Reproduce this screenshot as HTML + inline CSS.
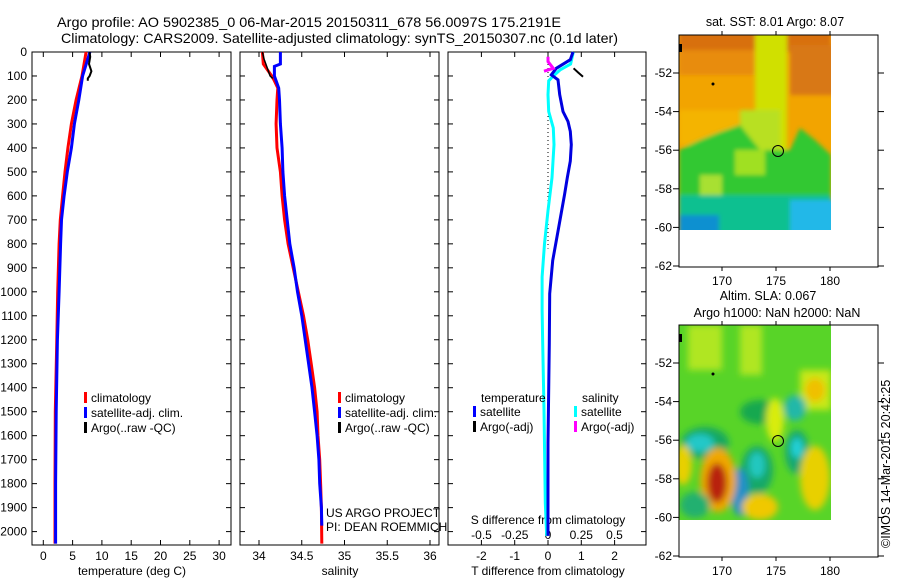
<!DOCTYPE html>
<html><head><meta charset="utf-8">
<style>
html,body{margin:0;padding:0;background:#fff;}
svg{display:block;font-family:"Liberation Sans",sans-serif;}
text{font-size:12px;fill:#000;}
</style></head>
<body>
<svg id="chart" width="900" height="580" viewBox="0 0 900 580" xmlns="http://www.w3.org/2000/svg">
<defs>
<filter id="bl" x="-20%" y="-20%" width="140%" height="140%"><feGaussianBlur stdDeviation="2"/></filter>
<filter id="bl2" x="-20%" y="-20%" width="140%" height="140%"><feGaussianBlur stdDeviation="3.5"/></filter>
<clipPath id="c1"><rect x="679" y="35" width="152" height="195"/></clipPath>
<clipPath id="c2"><rect x="679" y="325" width="152" height="195"/></clipPath>
</defs>
<text x="57" y="27" style="font-size:14px" textLength="504" lengthAdjust="spacingAndGlyphs">Argo profile: AO 5902385_0 06-Mar-2015 20150311_678 56.0097S 175.2191E</text>
<text x="61" y="43" style="font-size:14px" textLength="557" lengthAdjust="spacingAndGlyphs">Climatology: CARS2009. Satellite-adjusted climatology: synTS_20150307.nc (0.1d later)</text>

<g id="p1"></g>
<g id="p2"></g>
<g id="p3"></g>

<!-- SST map -->
<g>
<text x="775" y="26" text-anchor="middle" style="font-size:12.5px">sat. SST: 8.01 Argo: 8.07</text>
<g clip-path="url(#c1)">
<rect x="679" y="35" width="152" height="195" fill="#f2a400"/>
<g filter="url(#bl)">
<rect x="679" y="30" width="152" height="22" fill="#d87010"/>
<rect x="679" y="50" width="80" height="25" fill="#e88c08"/>
<rect x="790" y="45" width="45" height="50" fill="#d87818"/>
<rect x="755" y="30" width="32" height="120" fill="#d0e000"/>
<rect x="740" y="110" width="40" height="40" fill="#b8e020"/>
<rect x="679" y="110" width="60" height="35" fill="#f4b400"/>
<polygon points="679,150 700,140 720,132 740,125 760,150 790,150 800,128 815,140 831,155 831,210 679,210" fill="#30c830"/>
<rect x="700" y="175" width="22" height="35" fill="#a8e030"/>
<rect x="735" y="150" width="30" height="25" fill="#a0e020"/>
<rect x="679" y="195" width="152" height="40" fill="#10c090"/>
<rect x="790" y="200" width="45" height="35" fill="#20b8e8"/>
<rect x="679" y="215" width="40" height="20" fill="#1090d0"/>
</g>
</g>
<rect x="679" y="35" width="199" height="232" fill="none" stroke="#000"/>
<circle cx="778" cy="151" r="5.5" fill="none" stroke="#000"/>
<circle cx="713" cy="84" r="1.5" fill="#000"/>
<rect x="679" y="44" width="3" height="8" fill="#000"/>
</g>

<!-- SLA map -->
<g>
<text x="768" y="300" text-anchor="middle" style="font-size:12.5px">Altim. SLA: 0.067</text>
<text x="777" y="317" text-anchor="middle" style="font-size:12.5px">Argo h1000: NaN h2000: NaN</text>
<g clip-path="url(#c2)">
<rect x="679" y="325" width="152" height="195" fill="#58d428"/>
<g filter="url(#bl2)">
<rect x="688" y="325" width="34" height="45" fill="#b0e620"/>
<rect x="740" y="325" width="22" height="50" fill="#b0e620"/>
<rect x="800" y="370" width="31" height="40" fill="#c8e818"/>
<ellipse cx="815" cy="390" rx="10" ry="12" fill="#f0c000"/>
<ellipse cx="760" cy="412" rx="20" ry="12" fill="#18a850"/>
<ellipse cx="705" cy="443" rx="24" ry="16" fill="#18a860"/>
<ellipse cx="700" cy="443" rx="14" ry="9" fill="#20c8c8"/>
<ellipse cx="795" cy="408" rx="11" ry="13" fill="#20b8a8"/>
<ellipse cx="797" cy="452" rx="12" ry="22" fill="#18a870"/>
<ellipse cx="797" cy="448" rx="6" ry="10" fill="#20d0d8"/>
<ellipse cx="775" cy="420" rx="9" ry="22" fill="#d8ec10"/>
<ellipse cx="757" cy="470" rx="16" ry="24" fill="#18a868"/>
<ellipse cx="757" cy="465" rx="8" ry="13" fill="#20c8c0"/>
<ellipse cx="740" cy="492" rx="9" ry="24" fill="#2090c8"/>
<ellipse cx="718" cy="480" rx="18" ry="32" fill="#f0a800"/>
<ellipse cx="717" cy="483" rx="10" ry="20" fill="#b82008"/>
<ellipse cx="683" cy="465" rx="9" ry="20" fill="#e8d000"/>
<ellipse cx="815" cy="478" rx="15" ry="32" fill="#e8d000"/>
<ellipse cx="760" cy="507" rx="18" ry="13" fill="#f0c800"/>
<ellipse cx="695" cy="505" rx="15" ry="13" fill="#20b070"/>
</g>
</g>
<rect x="679" y="325" width="199" height="232" fill="none" stroke="#000"/>
<circle cx="778" cy="441" r="5.5" fill="none" stroke="#000"/>
<circle cx="713" cy="374" r="1.5" fill="#000"/>
<rect x="679" y="334" width="3" height="8" fill="#000"/>
</g>
<g id="mapaxes"></g>
<text transform="translate(890,548) rotate(-90)" x="0" y="0" style="font-size:12.5px">©IMOS 14-Mar-2015 20:42:25</text>
</svg>
<script>
// ---- data ----
const depths = [0,100,200,300,400,500,600,700,800,1000,1200,1500,1800,2050];
const tempClim = [7.3,6.6,5.6,4.8,4.2,3.7,3.3,2.9,2.7,2.45,2.3,2.05,2.0,2.0];
const tempSat  = [7.95,6.7,6.05,5.3,4.8,4.1,3.55,3.1,2.95,2.7,2.4,2.2,2.1,2.1];
const argoDepths = [0,20,50,80,100,110,120];
const tempArgo = [7.9,8.0,7.8,8.2,7.9,7.6,7.6];
const salDepths = [0,50,100,120,150,200,300,400,500,600,700,800,900,1000,1100,1200,1300,1400,1500,1600,1700,1800,1900,2050];
const salClim = [34.04,34.05,34.15,34.18,34.22,34.21,34.2,34.21,34.25,34.27,34.3,34.34,34.4,34.46,34.52,34.57,34.61,34.65,34.68,34.69,34.71,34.72,34.73,34.735];
const salSatDepths = [0,50,60,100,120,150,200,300,400,500,600,700,800,900,1000,1100,1200,1300,1400,1500,1600,1700,1800,1900,1975];
const salSat = [34.25,34.25,34.18,34.18,34.2,34.23,34.24,34.25,34.27,34.28,34.3,34.33,34.36,34.41,34.45,34.5,34.54,34.58,34.62,34.65,34.68,34.7,34.71,34.73,34.735];
const salArgo = [34.04,34.06,34.09,34.11,34.13,34.16];
const salArgoDepths = [0,30,60,80,100,110];
const tdDepths = [0,32,68,95,116,178,248,290,331,386,455,524,593,731,870,1008,1215,1631,2018];
const tDiffSat = [0.75,0.67,0.25,0.1,0.3,0.35,0.45,0.6,0.67,0.7,0.67,0.58,0.5,0.32,0.14,0.05,0.04,0.0,0.0];
const sdDepths = [0,50,75,100,120,178,248,317,386,524,662,800,938,1077,1215,1492,1880,2018];
const sDiffSat = [0.19,0.17,0.09,0.04,0.005,0.0,0.005,0.04,0.045,0.03,0.0,-0.026,-0.044,-0.044,-0.04,-0.03,-0.02,-0.01];
const tdArgoDepths = [68,85,103];
const tDiffArgo = [0.77,0.9,1.05];
const sdArgoDepths = [20,40,68,80];
const sDiffArgo = [0.0,0.0,0.04,-0.03];
const depthTicks = [0,100,200,300,400,500,600,700,800,900,1000,1100,1200,1300,1400,1500,1600,1700,1800,1900,2000];
const tempTicks = [0,5,10,15,20,25,30];
const salTicks = [34,34.5,35,35.5,36];
const tdTicks = [-2,-1,0,1,2];
const sdTicks = [-0.5,-0.25,0,0.25,0.5];
const sdTickLabels = ["-0.5","-0.25","0","0.25","0.5"];
const latTicks = [-52,-54,-56,-58,-60,-62];
const lonTicks = [170,175,180];

const NS="http://www.w3.org/2000/svg";
const TOP=52, BOT=545;
const yD = d => 52 + d*0.2398;
const xT = t => 43.3 + t*5.86;
const xS = s => 259 + (s-34)*85.5;
const xTD = v => 548 + v*33.3;
const xSD = v => 548 + v*133;
function mk(parent,tag,attrs,txt){const e=document.createElementNS(NS,tag);for(const k in attrs)e.setAttribute(k,attrs[k]);if(txt!==undefined)e.textContent=txt;parent.appendChild(e);return e;}
function line(parent,xs,ds,fx,color,w,name){
  const pts=xs.map((v,i)=>fx(v).toFixed(1)+","+yD(ds[i]).toFixed(1)).join(" ");
  const e=mk(parent,"polyline",{points:pts,fill:"none",stroke:color,"stroke-width":w});
  
  
}
function frame(g,x0,x1,name){
  const r=mk(g,"rect",{x:x0,y:TOP,width:x1-x0,height:BOT-TOP,fill:"none",stroke:"#000"});
  
  
  depthTicks.forEach(d=>{mk(g,"line",{x1:x0,x2:x0+5,y1:yD(d),y2:yD(d),stroke:"#000"});mk(g,"line",{x1:x1-5,x2:x1,y1:yD(d),y2:yD(d),stroke:"#000"});});
}
function xticks(g,ticks,labels,fx,name){
  ticks.forEach((t,i)=>{const x=fx(t);
    mk(g,"line",{x1:x,x2:x,y1:BOT,y2:BOT-5,stroke:"#000"});
    mk(g,"line",{x1:x,x2:x,y1:TOP,y2:TOP+5,stroke:"#000"});
    const e=mk(g,"text",{x:x,y:560,"text-anchor":"middle"},labels[i]);
    
    
  });
}
function legend(g,x,y,items){
  items.forEach((it,i)=>{
    const yy=y+i*15;
    mk(g,"rect",{x:x,y:yy-10,width:3,height:11,fill:it[1]});
    const e=mk(g,"text",{x:x+7,y:yy},it[0]);
    
    
  });
}
// Panel 1
const p1=document.getElementById("p1");
frame(p1,32,231,"temperature-frame");
depthTicks.forEach(d=>{const e=mk(p1,"text",{x:27,y:yD(d)+4,"text-anchor":"end"},String(d));
  
  });
xticks(p1,tempTicks,tempTicks.map(String),xT,"temperature-tick-label");
mk(p1,"text",{x:132,y:575,"text-anchor":"middle"},"temperature (deg C)");
line(p1,tempClim,depths,xT,"#ff0000",3,"temperature-climatology-line");
line(p1,tempSat,depths,xT,"#0000ff",3,"temperature-satellite-line");
line(p1,tempArgo,argoDepths,xT,"#000",2,"temperature-argo-line");
legend(p1,84,402,[["climatology","#ff0000"],["satellite-adj. clim.","#0000ff"],["Argo(..raw -QC)","#000"]]);
// Panel 2
const p2=document.getElementById("p2");
frame(p2,240,439,"salinity-frame");
xticks(p2,salTicks,salTicks.map(String),xS,"salinity-tick-label");
mk(p2,"text",{x:340,y:575,"text-anchor":"middle"},"salinity");
line(p2,salClim,salDepths,xS,"#ff0000",3,"salinity-climatology-line");
line(p2,salSat,salSatDepths,xS,"#0000ff",3,"salinity-satellite-line");
line(p2,salArgo,salArgoDepths,xS,"#000",1.5,"salinity-argo-line");
legend(p2,338,402,[["climatology","#ff0000"],["satellite-adj. clim.","#0000ff"],["Argo(..raw -QC)","#000"]]);
mk(p2,"text",{x:326,y:517},"US ARGO PROJECT");
mk(p2,"text",{x:326,y:531},"PI: DEAN ROEMMICH");
// Panel 3
const p3=document.getElementById("p3");
frame(p3,448,646,"difference-frame");
xticks(p3,tdTicks,tdTicks.map(String),xTD,"t-diff-tick-label");
mk(p3,"text",{x:548,y:575,"text-anchor":"middle"},"T difference from climatology");
mk(p3,"text",{x:548,y:524,"text-anchor":"middle"},"S difference from climatology");
sdTicks.forEach((t,i)=>{const e=mk(p3,"text",{x:xSD(t),y:539,"text-anchor":"middle"},sdTickLabels[i]);
  
  });
mk(p3,"line",{x1:xTD(0),x2:xTD(0),y1:TOP,y2:yD(820),stroke:"#000","stroke-dasharray":"1,3"});
line(p3,sDiffSat,sdDepths,xSD,"#00ffff",3,"salinity-diff-satellite-line");
line(p3,tDiffSat,tdDepths,xTD,"#0000e0",3,"temperature-diff-satellite-line");
line(p3,tDiffArgo,tdArgoDepths,xTD,"#000",2,"temperature-diff-argo-line");
line(p3,sDiffArgo,sdArgoDepths,xSD,"#ff00ff",3,"salinity-diff-argo-line");
mk(p3,"text",{x:481,y:402},"temperature");
mk(p3,"text",{x:582,y:402},"salinity");
legend(p3,473,416,[["satellite","#0000ff"],["Argo(-adj)","#000"]]);
legend(p3,574,416,[["satellite","#00ffff"],["Argo(-adj)","#ff00ff"]]);
// Map axes
const ma=document.getElementById("mapaxes");
[[35,267],[325,557]].forEach(([top,bot])=>{
  latTicks.forEach(l=>{const yy=top+38+(-52-l)*19.3;
    mk(ma,"line",{x1:673,x2:679,y1:yy,y2:yy,stroke:"#000"});
    mk(ma,"line",{x1:878,x2:884,y1:yy,y2:yy,stroke:"#000"});
    const e=mk(ma,"text",{x:672,y:yy+4,"text-anchor":"end"},String(l));
    
    });
  lonTicks.forEach(l=>{const x=722+(l-170)*10.8;
    mk(ma,"line",{x1:x,x2:x,y1:top,y2:top-4,stroke:"#000"});
    mk(ma,"line",{x1:x,x2:x,y1:bot,y2:bot+4,stroke:"#000"});
    const e=mk(ma,"text",{x:x,y:bot+18,"text-anchor":"middle"},String(l));
    
    });
});
</script>
</body></html>
